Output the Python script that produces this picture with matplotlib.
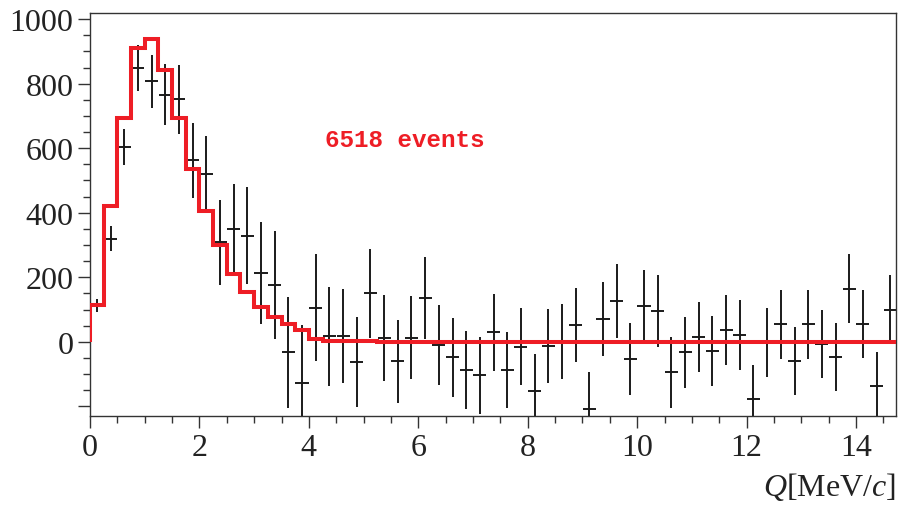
import matplotlib
matplotlib.use("Agg")
import matplotlib.pyplot as plt
import numpy as np
from matplotlib.ticker import MultipleLocator, FixedLocator

# bin edges of the Q histogram (MeV/c), width 0.25
bin_width = 0.25
n_bins = 59

# measured counts per bin and their errors
counts = [113, 319, 604, 849, 807, 766, 751, 563, 521, 308,
          350, 329, 214, 176, -33, -128, 106, 17, 19, -62,
          150, 11, -61, 13, 136, -10, -48, -87, -104, 29,
          -87, -15, -153, -13, 0, 52, -208, 71, 127, -53,
          110, 95, -95, -33, 15, -28, 36, 21, -178, -2,
          54, -60, 54, -6, -46, 165, 54, -137, 100]
errors = [20, 39, 55, 71, 82, 95, 106, 116, 118, 132,
          140, 150, 158, 166, 173, 180, 166, 154, 146, 140,
          137, 133, 130, 128, 127, 125, 123, 121, 120, 120,
          118, 119, 115, 116, 116, 115, 113, 114, 114, 112,
          111, 111, 111, 110, 109, 109, 109, 109, 107, 107,
          107, 106, 106, 106, 105, 106, 105, 105, 106]

# fitted model histogram
model = [115, 420, 695, 910, 940, 842, 695, 537, 404, 300,
         209, 153, 108, 76, 55, 36, 8, 3, 2, 1,
         1, 0.5, 0.5, 0, 0, 0, 0, 0, 0, 0,
         0, 0, 0, 0, 0, 0, 0, 0, 0, 0,
         0, 0, 0, 0, 0, 0, 0, 0, 0, 0,
         0, 0, 0, 0, 0, 0, 0, 0, 0]

annotation = "6518 events"
x_label = r"$Q$[MeV/$c$]"
y_ticks = [-200, 0, 200, 400, 600, 800, 1000]
y_tick_labels = ["", "0", "200", "400", "600", "800", "1000"]

plt.rcParams["font.family"] = ["Liberation Serif", "DejaVu Serif"]
plt.rcParams["mathtext.fontset"] = "custom"
plt.rcParams["mathtext.rm"] = "Liberation Serif"
plt.rcParams["mathtext.it"] = "Liberation Serif:italic"

edges = np.arange(n_bins + 1) * bin_width
centers = edges[:-1] + bin_width / 2

fig = plt.figure(figsize=(8.99, 5.06), dpi=100)
ax = fig.add_axes([0.1001, 0.1759, 0.8966, 0.7964])

red = "#ee1d25"
ink = "#1a1a1a"

ax.errorbar(centers, counts, yerr=errors, xerr=bin_width * 0.48,
            fmt="none", ecolor=ink, elinewidth=1.4, capsize=0, zorder=2)
ax.stairs(model, edges, baseline=0, color=red, linewidth=2.9, zorder=3)

ax.text(5.75, 626, annotation, color=red, fontsize=17.5,
        family="Liberation Mono", weight="bold", ha="center", va="center")

ax.set_xlim(0, 14.73)
ax.set_ylim(-230, 1019)

ax.xaxis.set_major_locator(MultipleLocator(2))
ax.xaxis.set_minor_locator(MultipleLocator(0.5))
ax.yaxis.set_major_locator(FixedLocator(y_ticks))
ax.yaxis.set_minor_locator(MultipleLocator(50))
ax.set_yticklabels(y_tick_labels)

ax.tick_params(which="both", direction="out", colors="#333333",
               labelcolor="#222222", labelsize=23, width=1.0)
ax.tick_params(which="major", length=8.5, pad=3.5)
ax.tick_params(which="minor", length=5)

for sp in ax.spines.values():
    sp.set_color("#333333")
    sp.set_linewidth(1.0)

ax.set_xlabel(x_label, loc="right", fontsize=23, color="#222222", labelpad=6)

fig.savefig("out.png", dpi=100)
